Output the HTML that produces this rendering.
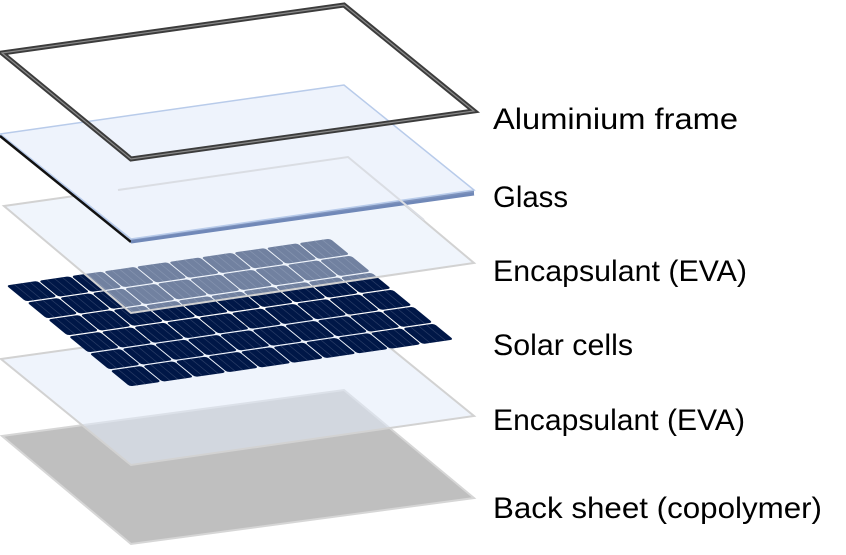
<!DOCTYPE html>
<html><head><meta charset="utf-8"><style>
html,body{margin:0;padding:0;background:#fff;}
svg{display:block;}
text{font-family:"Liberation Sans",sans-serif;font-size:30px;fill:#000;}
</style></head><body>
<svg width="846" height="555" viewBox="0 0 846 555">
  <polygon points="2,436 344,390 474,498 131,544" fill="#bfbfbf" stroke="#d6d6d6" stroke-width="2"/>
  <polygon points="1,359 345,311 474,416 131,465" fill="rgba(225,235,250,0.55)" stroke="#d2d2d2" stroke-width="2"/>
  <g transform="matrix(32.5,-4.7,20.8,17,5,285)" id="cells"></g>
  <polygon points="4,206 348,157 474,263 131,313" fill="rgba(225,235,250,0.5)" stroke="#d2d2d2" stroke-width="2"/>
  <g>
    <polygon points="0,134 344,85 474,190 474,195 131,243 131,240 0,137" fill="#7e93bd"/>
    <polygon points="0,134 344,85 474,190 131,239" fill="#eef3fc" stroke="#b8cbea" stroke-width="1.5"/>
    <polygon points="4,206 348,157 474,263 131,313" fill="#e6eefb" opacity="0"/>
    <line x1="0" y1="136" x2="131" y2="242" stroke="#111" stroke-width="2.5"/>
    <line x1="131" y1="242" x2="474" y2="194" stroke="#7088b8" stroke-width="3"/>
  </g>
  <polyline points="118,190 348,157 424,220" fill="none" stroke="#dadde3" stroke-width="2"/>
  <g>
    <polygon points="2,53 344,5 474,111 131,159" fill="none" stroke="#3c3c3c" stroke-width="5"/>
    <polygon points="2,53 344,5 474,111 131,159" fill="none" stroke="#8a8a8a" stroke-width="1.2"/>
  </g>
  <text x="493" y="129" textLength="245" lengthAdjust="spacingAndGlyphs">Aluminium frame</text>
  <text x="493" y="207" textLength="75" lengthAdjust="spacingAndGlyphs">Glass</text>
  <text x="493" y="281" textLength="254" lengthAdjust="spacingAndGlyphs">Encapsulant (EVA)</text>
  <text x="493" y="355" textLength="140" lengthAdjust="spacingAndGlyphs">Solar cells</text>
  <text x="493" y="430" textLength="252" lengthAdjust="spacingAndGlyphs">Encapsulant (EVA)</text>
  <text x="493" y="518" textLength="329" lengthAdjust="spacingAndGlyphs">Back sheet (copolymer)</text>
</svg>
<script>
const cols = 10, rows = 6;
const g = document.getElementById('cells');
const ns = 'http://www.w3.org/2000/svg';
for (let r = 0; r < rows; r++) {
  for (let c = 0; c < cols; c++) {
    const rect = document.createElementNS(ns, 'rect');
    
    
    rect.setAttribute('x', c + 0.02);
    rect.setAttribute('y', r + 0.03);
    rect.setAttribute('width', 0.96);
    rect.setAttribute('height', 0.94);
    rect.setAttribute('rx', 0.1);
    rect.setAttribute('ry', 0.1);
    rect.setAttribute('fill', '#001747');
    g.appendChild(rect);
    for (let k = 1; k < 4; k++) {
      const ln = document.createElementNS(ns, 'line');
      
      
      ln.setAttribute('x1', c + 0.02 + k * 0.24);
      ln.setAttribute('x2', c + 0.02 + k * 0.24);
      ln.setAttribute('y1', r + 0.03);
      ln.setAttribute('y2', r + 0.97);
      ln.setAttribute('stroke', '#2a3d66');
      ln.setAttribute('stroke-width', '0.03');
      g.appendChild(ln);
    }
  }
}
</script>
</body></html>
